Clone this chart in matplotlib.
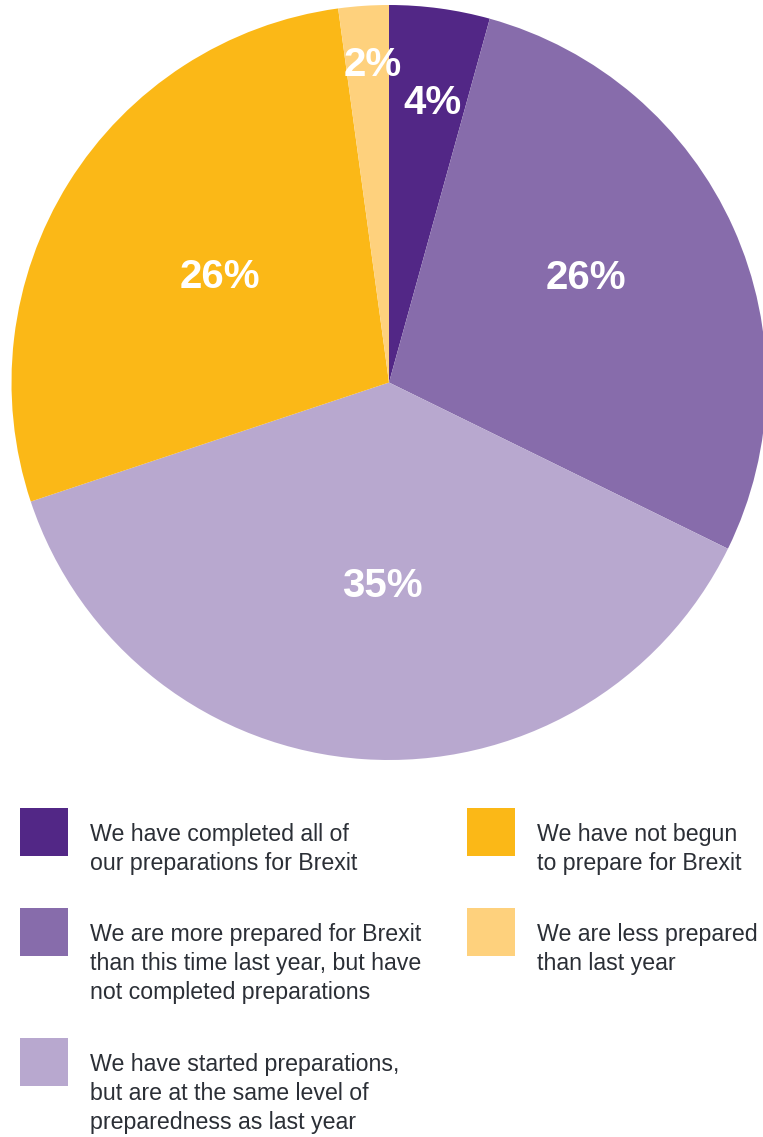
import numpy as np
import matplotlib
matplotlib.use("Agg")
import matplotlib.pyplot as plt
from matplotlib.patches import Rectangle

plt.rcParams['font.family'] = ['Liberation Sans', 'DejaVu Sans']

# data
categories = [
    "We have completed all of\nour preparations for Brexit",
    "We are more prepared for Brexit\nthan this time last year, but have\nnot completed preparations",
    "We have started preparations,\nbut are at the same level of\npreparedness as last year",
    "We have not begun\nto prepare for Brexit",
    "We are less prepared\nthan last year",
]
values = [4, 26, 35, 26, 2]
pct_labels = ["4%", "26%", "35%", "26%", "2%"]
colors = ["#522786", "#876cab", "#b8a8cf", "#fbb817", "#fed17d"]

W, H = 763, 1137
fig = plt.figure(figsize=(W / 100, H / 100), dpi=100)

# pie axes (pixel layout: centre ~ (389, 382), radius ~377)
r_px = 377.5
cx, cy = 389, 382.5
ax = fig.add_axes([(cx - r_px) / W, (H - cy - r_px) / H, 2 * r_px / W, 2 * r_px / H])
wedges, _ = ax.pie(values, colors=colors, startangle=90, counterclock=False,
                   radius=1, wedgeprops=dict(linewidth=0))
ax.set_xlim(-1, 1)
ax.set_ylim(-1, 1)
ax.set_aspect('equal')
ax.axis('off')

# percentage labels: radial distance and small angle nudge per slice
label_dist = [0.75, 0.59, 0.54, 0.527, 0.842]
label_nudge = [-1.1, 3.7, 2.1, 0.0, -1.0]
for w, lab, d, nd in zip(wedges, pct_labels, label_dist, label_nudge):
    mid = np.deg2rad((w.theta1 + w.theta2) / 2 + nd)
    ax.text(d * np.cos(mid), d * np.sin(mid), lab, color="white",
            fontsize=29, fontweight="bold", ha="center", va="center")

# legend drawn in pixel coordinates
lax = fig.add_axes([0, 0, 1, 1])
lax.set_xlim(0, W)
lax.set_ylim(H, 0)
lax.axis('off')
lax.patch.set_alpha(0)

leg_pos = [(20, 808), (20, 908), (20, 1038), (467, 808), (467, 908)]
for (x, y), c, txt in zip(leg_pos, colors, categories):
    lax.add_patch(Rectangle((x, y), 48, 48, color=c, linewidth=0))
    lax.text(x + 70, y + 15.5, txt, fontsize=16.7, color="#2b2f36",
             ha="left", va="top", linespacing=1.31)

fig.savefig("out.png", dpi=100)
